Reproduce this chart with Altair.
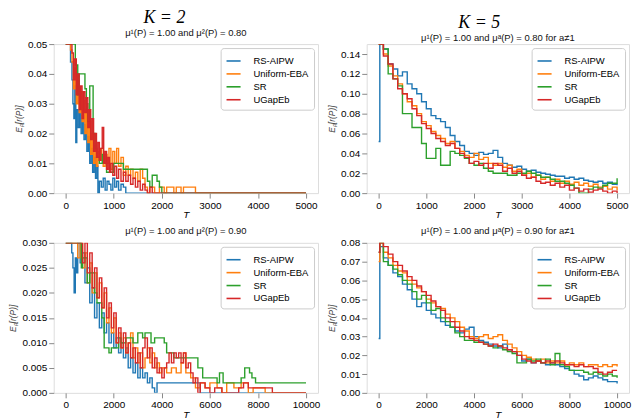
import altair as alt
import pandas as pd

methods = ["RS-AIPW", "Uniform-EBA", "SR", "UGapEb"]
colors = ["#1f77b4", "#ff7f0e", "#2ca02c", "#d62728"]

# ---------- K = 2, top (T up to 5000) ----------
tl_blue_x = [0, 60, 100, 130, 150, 170, 190, 210, 230, 260, 290, 320, 350, 380, 410, 440, 470, 500, 530, 560, 590, 620, 650, 670, 700, 740, 780, 820, 860, 900, 940, 980, 1020, 1060, 1100, 1150, 1200, 1250, 5000]
tl_blue_y = [0.05, 0.05, 0.044, 0.038, 0.03, 0.025, 0.036, 0.017, 0.028, 0.022, 0.031, 0.02, 0.026, 0.018, 0.023, 0.014, 0.019, 0.01, 0.015, 0.007, 0.012, 0.005, 0.009, 0.0, 0.004, 0.002, 0.005, 0.001, 0.004, 0.003, 0.001, 0.005, 0.002, 0.004, 0.001, 0.003, 0.002, 0.0, 0.0]
tl_orange_x = [0, 100, 130, 160, 190, 220, 250, 280, 310, 340, 370, 400, 430, 460, 490, 520, 550, 580, 610, 640, 670, 700, 740, 780, 820, 860, 900, 940, 980, 1020, 1060, 1100, 1150, 1200, 1250, 1300, 1350, 1400, 1450, 1500, 1550, 1600, 1650, 1700, 1750, 1850, 1950, 2050, 2100, 2250, 2300, 2400, 2450, 2550, 2700, 5000]
tl_orange_y = [0.05, 0.048, 0.044, 0.035, 0.042, 0.03, 0.038, 0.027, 0.034, 0.024, 0.031, 0.02, 0.028, 0.017, 0.024, 0.013, 0.02, 0.01, 0.016, 0.009, 0.014, 0.011, 0.015, 0.009, 0.013, 0.01, 0.015, 0.008, 0.014, 0.01, 0.015, 0.009, 0.012, 0.006, 0.009, 0.006, 0.008, 0.005, 0.007, 0.004, 0.008, 0.005, 0.002, 0.0, 0.002, 0.0, 0.002, 0.0, 0.002, 0.0, 0.002, 0.0, 0.002, 0.002, 0.0, 0.0]
tl_green_x = [0, 150, 200, 250, 280, 400, 430, 460, 500, 570, 610, 650, 700, 760, 800, 850, 950, 1000, 1150, 1200, 1650, 1700, 1750, 1800, 1900, 1950, 2000, 5000]
tl_green_y = [0.05, 0.05, 0.043, 0.033, 0.04, 0.035, 0.03, 0.024, 0.036, 0.02, 0.015, 0.012, 0.01, 0.013, 0.01, 0.007, 0.007, 0.01, 0.01, 0.008, 0.008, 0.004, 0.002, 0.006, 0.004, 0.002, 0.0, 0.0]
tl_red_x = [0, 100, 130, 160, 190, 220, 250, 280, 310, 340, 370, 400, 430, 460, 490, 520, 550, 580, 610, 640, 670, 700, 730, 760, 790, 820, 850, 880, 910, 940, 980, 1020, 1060, 1100, 1150, 1200, 1250, 1300, 1350, 1400, 1450, 1500, 1550, 1600, 1650, 1700, 1750, 1800, 5000]
tl_red_y = [0.05, 0.05, 0.047, 0.038, 0.045, 0.033, 0.04, 0.028, 0.036, 0.025, 0.034, 0.027, 0.032, 0.022, 0.028, 0.018, 0.025, 0.014, 0.02, 0.012, 0.017, 0.011, 0.015, 0.022, 0.01, 0.014, 0.008, 0.012, 0.007, 0.01, 0.006, 0.009, 0.005, 0.008, 0.004, 0.007, 0.004, 0.006, 0.003, 0.005, 0.002, 0.004, 0.001, 0.003, 0.001, 0.0, 0.002, 0.0, 0.0]

# ---------- K = 5, top (T up to 5000) ----------
tr_x = [0, 25, 100, 200, 300, 400, 500, 600, 700, 800, 900, 1000, 1100, 1200, 1300, 1400, 1500, 1600, 1700, 1800, 1900, 2000, 2100, 2200, 2300, 2400, 2500, 2600, 2700, 2800, 2900, 3000, 3100, 3200, 3300, 3400, 3500, 3600, 3700, 3800, 3900, 4000, 4100, 4200, 4300, 4400, 4500, 4600, 4700, 4800, 4900, 5000]
tr_blue_y = [0.052, 0.15, 0.145, 0.13, 0.125, 0.118, 0.122, 0.11, 0.105, 0.1, 0.092, 0.085, 0.078, 0.075, 0.072, 0.066, 0.058, 0.052, 0.048, 0.042, 0.04, 0.038, 0.041, 0.039, 0.04, 0.043, 0.036, 0.03, 0.028, 0.026, 0.027, 0.024, 0.022, 0.023, 0.021, 0.02, 0.019, 0.018, 0.017, 0.017, 0.015, 0.016, 0.014, 0.015, 0.013, 0.012, 0.011, 0.012, 0.01, 0.011, 0.009, 0.008]
tr_orange_y = [0.15, 0.15, 0.14, 0.128, 0.118, 0.11, 0.1, 0.092, 0.088, 0.08, 0.072, 0.068, 0.062, 0.058, 0.055, 0.05, 0.052, 0.045, 0.042, 0.038, 0.036, 0.04, 0.034, 0.036, 0.03, 0.028, 0.03, 0.026, 0.028, 0.022, 0.024, 0.018, 0.02, 0.016, 0.018, 0.014, 0.016, 0.012, 0.014, 0.01, 0.012, 0.009, 0.011, 0.008, 0.01, 0.007, 0.009, 0.006, 0.007, 0.004, 0.006, 0.003]
tr_green_y = [0.15, 0.15, 0.145, 0.12, 0.115, 0.108, 0.08, 0.08, 0.066, 0.066, 0.05, 0.035, 0.035, 0.045, 0.028, 0.028, 0.042, 0.04, 0.038, 0.035, 0.03, 0.028, 0.03, 0.025, 0.022, 0.02, 0.02, 0.02, 0.018, 0.018, 0.02, 0.02, 0.022, 0.02, 0.018, 0.016, 0.016, 0.014, 0.012, 0.012, 0.01, 0.008, 0.005, 0.0, 0.0, 0.004, 0.006, 0.005, 0.008, 0.01, 0.01, 0.015]
tr_red_y = [0.15, 0.15, 0.138, 0.13, 0.115, 0.105, 0.1, 0.095, 0.085, 0.078, 0.07, 0.065, 0.06, 0.055, 0.052, 0.048, 0.05, 0.045, 0.04, 0.036, 0.03, 0.032, 0.028, 0.03, 0.025, 0.03, 0.028, 0.022, 0.025, 0.02, 0.022, 0.018, 0.015, 0.016, 0.012, 0.01, 0.011, 0.008, 0.01, 0.006, 0.008, 0.003, 0.005, 0.002, 0.004, 0.001, 0.003, 0.004, 0.002, 0.0, 0.002, 0.0]

# ---------- K = 2, bottom (T up to 10000) ----------
bl_blue_x = [0, 250, 300, 350, 400, 450, 500, 600, 700, 800, 900, 1000, 1100, 1200, 1300, 1400, 1500, 1600, 1700, 1800, 1900, 2000, 2100, 2200, 2300, 2400, 2500, 2600, 2700, 2800, 2900, 3000, 3100, 3200, 3300, 3400, 3500, 3600, 3700, 3800, 5500, 5600, 10000]
bl_blue_y = [0.03, 0.028, 0.025, 0.02, 0.027, 0.024, 0.03, 0.026, 0.028, 0.022, 0.025, 0.018, 0.021, 0.015, 0.018, 0.013, 0.016, 0.012, 0.014, 0.01, 0.012, 0.009, 0.011, 0.008, 0.01, 0.007, 0.009, 0.005, 0.007, 0.004, 0.006, 0.003, 0.005, 0.003, 0.004, 0.002, 0.003, 0.001, 0.0, 0.002, 0.002, 0.0, 0.0]
bl_orange_x = [0, 400, 500, 600, 700, 800, 900, 1000, 1100, 1200, 1300, 1400, 1500, 1600, 1700, 1800, 1900, 2000, 2100, 2200, 2300, 2400, 2500, 2600, 2700, 2800, 2900, 3000, 3100, 3200, 3300, 3400, 3500, 3600, 3700, 3800, 3900, 4000, 4200, 4400, 4600, 4800, 4900, 5000, 5200, 5400, 5600, 5800, 6000, 6300, 6500, 6700, 7000, 7300, 7600, 7800, 8300, 10000]
bl_orange_y = [0.03, 0.03, 0.027, 0.03, 0.025, 0.028, 0.022, 0.026, 0.02, 0.024, 0.019, 0.022, 0.017, 0.02, 0.014, 0.017, 0.012, 0.015, 0.01, 0.012, 0.009, 0.011, 0.008, 0.01, 0.012, 0.007, 0.009, 0.006, 0.008, 0.005, 0.007, 0.009, 0.006, 0.008, 0.005, 0.006, 0.004, 0.005, 0.004, 0.005, 0.004, 0.006, 0.008, 0.004, 0.003, 0.001, 0.002, 0.001, 0.002, 0.001, 0.0, 0.002, 0.001, 0.002, 0.0, 0.001, 0.0, 0.0]
bl_green_x = [0, 600, 650, 700, 900, 1000, 1200, 1300, 1500, 1600, 1800, 1900, 2200, 2300, 2500, 2800, 3000, 3200, 3300, 3550, 3700, 4100, 4200, 4500, 5500, 5700, 6300, 6400, 6550, 7300, 7450, 7650, 7750, 7900, 10000]
bl_green_y = [0.03, 0.03, 0.025, 0.027, 0.022, 0.024, 0.02, 0.018, 0.015, 0.009, 0.008, 0.009, 0.011, 0.01, 0.011, 0.01, 0.012, 0.011, 0.012, 0.01, 0.011, 0.01, 0.008, 0.007, 0.005, 0.003, 0.002, 0.004, 0.002, 0.003, 0.005, 0.004, 0.003, 0.002, 0.002]
bl_red_x = [0, 600, 700, 800, 900, 1000, 1100, 1200, 1300, 1400, 1500, 1600, 1700, 1800, 1900, 2000, 2100, 2200, 2300, 2400, 2500, 2600, 2700, 2800, 2900, 3000, 3100, 3200, 3300, 3400, 3500, 3600, 3700, 3800, 3900, 4000, 4100, 4200, 4300, 4400, 4500, 4600, 4700, 4800, 4900, 5000, 5100, 5200, 5300, 5400, 5500, 5600, 5800, 6000, 6200, 6500, 7200, 7400, 7600, 8000, 8300, 8600, 10000]
bl_red_y = [0.03, 0.03, 0.026, 0.03, 0.024, 0.028, 0.021, 0.025, 0.019, 0.023, 0.017, 0.021, 0.015, 0.018, 0.013, 0.016, 0.01, 0.013, 0.009, 0.012, 0.008, 0.01, 0.007, 0.009, 0.006, 0.008, 0.005, 0.009, 0.011, 0.007, 0.009, 0.005, 0.007, 0.004, 0.005, 0.003, 0.005, 0.006, 0.008, 0.006, 0.008, 0.007, 0.008, 0.006, 0.008, 0.005, 0.006, 0.004, 0.002, 0.003, 0.0, 0.002, 0.001, 0.0, 0.001, 0.0, 0.001, 0.002, 0.001, 0.001, 0.001, 0.0, 0.0]

# ---------- K = 5, bottom (T up to 10000) ----------
br_x = [0, 50, 200, 400, 600, 800, 1000, 1200, 1400, 1600, 1800, 2000, 2200, 2400, 2600, 2800, 3000, 3200, 3400, 3600, 3800, 4000, 4200, 4400, 4600, 4800, 5000, 5200, 5400, 5600, 5800, 6000, 6200, 6400, 6600, 6800, 7000, 7200, 7400, 7600, 7800, 8000, 8200, 8400, 8600, 8800, 9000, 9200, 9400, 9600, 9800, 10000]
br_blue_y = [0.029, 0.078, 0.072, 0.068, 0.064, 0.062, 0.058, 0.055, 0.05, 0.046, 0.048, 0.044, 0.042, 0.04, 0.038, 0.036, 0.035, 0.033, 0.032, 0.034, 0.035, 0.03, 0.028, 0.027, 0.026, 0.025, 0.024, 0.026, 0.023, 0.022, 0.02, 0.017, 0.018, 0.016, 0.017, 0.016, 0.015, 0.016, 0.015, 0.014, 0.013, 0.012, 0.01, 0.009, 0.007, 0.008, 0.009, 0.008, 0.007, 0.006, 0.006, 0.005]
br_orange_y = [0.07, 0.08, 0.075, 0.072, 0.068, 0.065, 0.064, 0.06, 0.058, 0.056, 0.054, 0.05, 0.048, 0.046, 0.045, 0.042, 0.04, 0.038, 0.035, 0.033, 0.03, 0.029, 0.03, 0.031, 0.029, 0.03, 0.031, 0.028, 0.026, 0.024, 0.022, 0.02, 0.019, 0.018, 0.017, 0.018, 0.016, 0.017, 0.016, 0.017, 0.015, 0.016, 0.015, 0.016, 0.014, 0.015, 0.015, 0.014, 0.015, 0.014, 0.015, 0.014]
br_green_y = [0.075, 0.08, 0.07, 0.068, 0.066, 0.063, 0.06, 0.058, 0.054, 0.05, 0.052, 0.048, 0.044, 0.045, 0.04, 0.038, 0.035, 0.032, 0.03, 0.028, 0.028, 0.027, 0.027, 0.026, 0.025, 0.024, 0.025, 0.023, 0.022, 0.021, 0.016, 0.016, 0.018, 0.017, 0.018, 0.016, 0.018, 0.015, 0.021, 0.015, 0.014, 0.012, 0.012, 0.012, 0.011, 0.01, 0.011, 0.01, 0.009, 0.01, 0.009, 0.008]
br_red_y = [0.075, 0.08, 0.078, 0.074, 0.07, 0.068, 0.065, 0.062, 0.06, 0.057, 0.054, 0.052, 0.049, 0.046, 0.044, 0.04, 0.038, 0.035, 0.033, 0.03, 0.029, 0.028, 0.027, 0.026, 0.025, 0.026, 0.025, 0.024, 0.023, 0.022, 0.02, 0.018, 0.017, 0.016, 0.017, 0.016, 0.017, 0.016, 0.017, 0.016, 0.015, 0.015, 0.014, 0.015, 0.014, 0.014, 0.013, 0.011, 0.01, 0.011, 0.012, 0.012]

titles = [
    "μ¹(P) = 1.00 and μ²(P) = 0.80",
    "μ¹(P) = 1.00 and μᵃ(P) = 0.80 for a≠1",
    "μ¹(P) = 1.00 and μ²(P) = 0.90",
    "μ¹(P) = 1.00 and μᵃ(P) = 0.90 for a≠1",
]
headers = ["K = 2", "K = 5"]


def frame(series):
    rows = []
    for name, xs, ys in series:
        for a, b in zip(xs, ys):
            rows.append({"T": a, "v": b, "method": name})
    return pd.DataFrame(rows)


def panel(df, xdom, xticks, ydom, yticks, yfmt, title, w, h):
    return alt.Chart(df).mark_line(
        interpolate="step-after", clip=True, strokeWidth=1.4
    ).encode(
        x=alt.X("T:Q", scale=alt.Scale(domain=xdom, nice=False, zero=False),
                axis=alt.Axis(values=xticks, format="d", title="T", grid=False,
                              gridColor="#ffffff", gridWidth=0, gridOpacity=0,
                              domain=False, titleFontStyle="italic", titleFontWeight="normal",
                              titleFontSize=10, titlePadding=0)),
        y=alt.Y("v:Q", scale=alt.Scale(domain=ydom, nice=False, zero=False),
                axis=alt.Axis(values=yticks, format=yfmt, title="Eₚ[r(P)]", grid=False,
                              gridColor="#ffffff", gridWidth=0, gridOpacity=0,
                              domain=False, titleFontStyle="italic",
                              titleFontWeight="normal", titleFontSize=8.5, titlePadding=4,
                              titleColor="#444")),
        color=alt.Color("method:N", sort=methods,
                        scale=alt.Scale(domain=methods, range=colors),
                        legend=alt.Legend(title=None, orient="top-right", offset=4,
                                          fillColor="white", strokeColor="#cccccc",
                                          cornerRadius=3, padding=5, labelFontSize=9.5,
                                          symbolType="stroke", symbolStrokeWidth=1.6,
                                          symbolSize=200, rowPadding=0, labelOffset=12,
                                          labelColor="black")),
    ).properties(
        width=w, height=h,
        title=alt.TitleParams(title, fontSize=9.5, fontWeight="normal", offset=2, color="#111"),
    )


tl = panel(frame([("RS-AIPW", tl_blue_x, tl_blue_y), ("Uniform-EBA", tl_orange_x, tl_orange_y),
                  ("SR", tl_green_x, tl_green_y), ("UGapEb", tl_red_x, tl_red_y)]),
           [-250, 5250], [0, 1000, 2000, 3000, 4000, 5000],
           [0, 0.05], [0, 0.01, 0.02, 0.03, 0.04, 0.05], ".2f", titles[0], 266, 150)
tr = panel(frame([("RS-AIPW", tr_x, tr_blue_y), ("Uniform-EBA", tr_x, tr_orange_y),
                  ("SR", tr_x, tr_green_y), ("UGapEb", tr_x, tr_red_y)]),
           [-250, 5250], [0, 1000, 2000, 3000, 4000, 5000],
           [0, 0.15], [0, 0.02, 0.04, 0.06, 0.08, 0.10, 0.12, 0.14], ".2f", titles[1], 264, 150)
bl = panel(frame([("RS-AIPW", bl_blue_x, bl_blue_y), ("Uniform-EBA", bl_orange_x, bl_orange_y),
                  ("SR", bl_green_x, bl_green_y), ("UGapEb", bl_red_x, bl_red_y)]),
           [-500, 10500], [0, 2000, 4000, 6000, 8000, 10000],
           [0, 0.03], [0, 0.005, 0.01, 0.015, 0.02, 0.025, 0.03], ".3f", titles[2], 266, 151)
br = panel(frame([("RS-AIPW", br_x, br_blue_y), ("Uniform-EBA", br_x, br_orange_y),
                  ("SR", br_x, br_green_y), ("UGapEb", br_x, br_red_y)]),
           [-500, 10500], [0, 2000, 4000, 6000, 8000, 10000],
           [0, 0.08], [0, 0.01, 0.02, 0.03, 0.04, 0.05, 0.06, 0.07, 0.08], ".2f", titles[3], 264, 151)

hdr = dict(fontSize=18, font="Liberation Serif", fontStyle="italic", fontWeight="normal",
           anchor="middle", offset=0, color="black")
left = alt.vconcat(tl, bl, spacing=5, title=alt.TitleParams(headers[0], **hdr)).resolve_scale(color="independent").resolve_legend(color="independent")
right = alt.vconcat(tr, br, spacing=5, title=alt.TitleParams(headers[1], **hdr)).resolve_scale(color="independent").resolve_legend(color="independent")

chart = alt.hconcat(left, right, spacing=6).resolve_scale(color="independent").resolve_legend(
    color="independent"
).properties(padding={"left": 0, "top": 0, "right": 0, "bottom": 0}).configure_view(
    stroke="black", strokeWidth=0.8
).configure_axis(
    grid=False, gridColor="#ffffff", gridOpacity=0, domain=False, tickColor="black",
    tickSize=3.5, labelColor="black", labelFontSize=10, labelFont="DejaVu Sans",
    titleFont="DejaVu Sans", labelPadding=1.5, titleColor="black"
).configure_axisX(grid=False).configure_axisY(grid=False).configure_legend(
    labelFont="DejaVu Sans"
).configure_title(font="DejaVu Sans").configure(background="white")

chart.save("out.html", embed_options={"renderer": "svg", "actions": False})
